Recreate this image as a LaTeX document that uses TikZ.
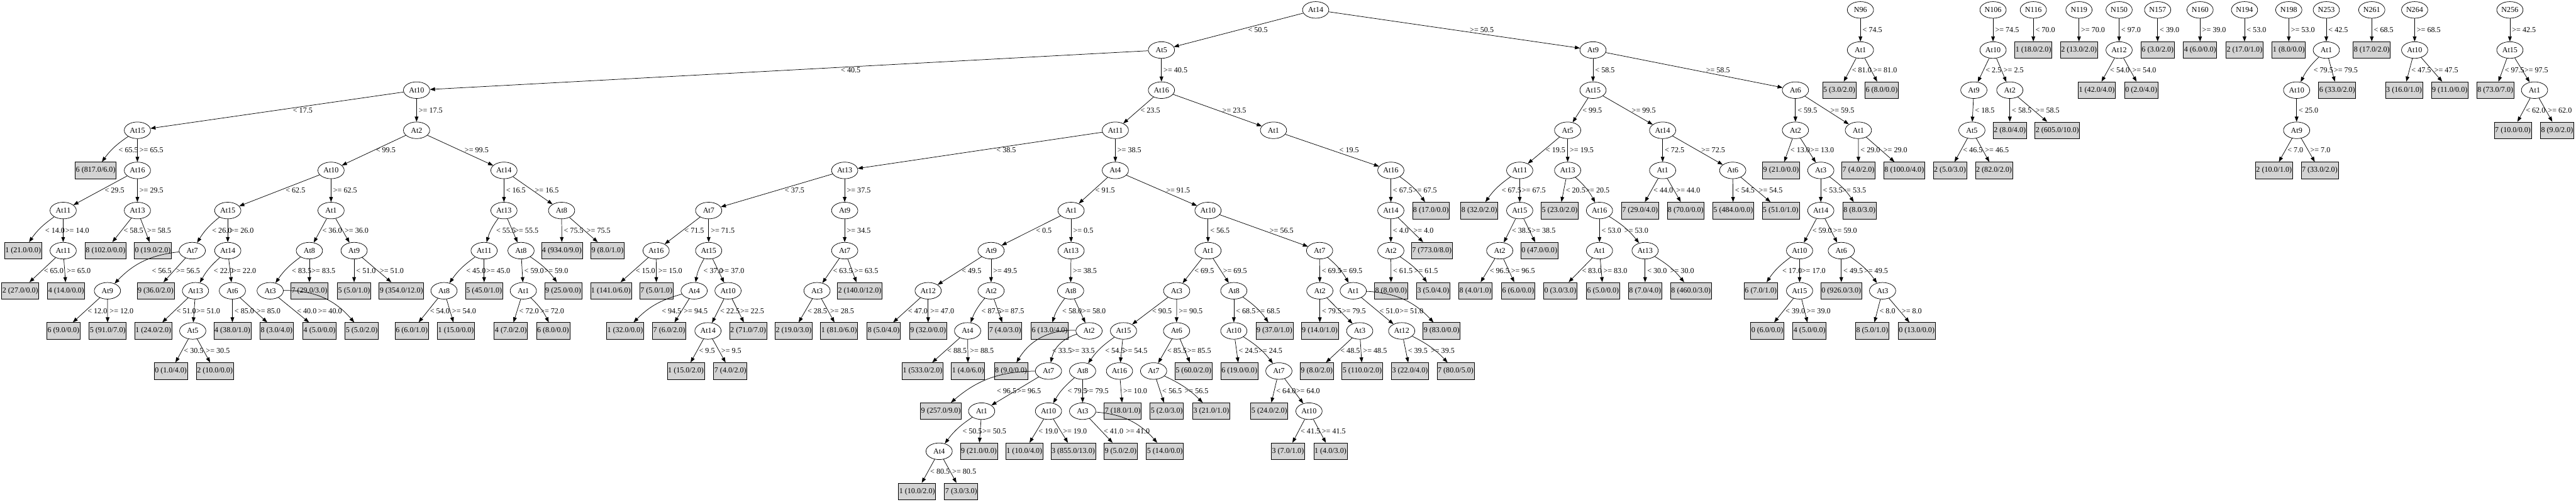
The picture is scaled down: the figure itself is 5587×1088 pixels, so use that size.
\documentclass[tikz,border=0pt]{standalone}
\usepackage{fontspec}
\setmainfont{Liberation Serif}
\usetikzlibrary{arrows.meta,calc,shapes.geometric}
\tikzset{
  inode/.style={ellipse,draw=black,line width=1pt,fill=white,minimum width=57pt,minimum height=36pt,inner sep=0pt},
  leaf/.style={rectangle,draw=black,line width=1pt,fill=lightgrayfill,minimum height=36pt,inner xsep=1.5pt,inner ysep=0pt},
  edge/.style={line width=1pt,-{Triangle[length=11pt,width=8pt]}},
  elab/.style={anchor=west,inner sep=0.5pt}
}
\definecolor{lightgrayfill}{HTML}{D3D3D3}
\newcommand\tnode[4]{\node[inode] (#1) at (#2,#3) {#4};}
\newcommand\tleaf[4]{\node[leaf] (#1) at (#2,#3) {#4};}
\newcommand\tedge[4][4]{\draw[edge] (#2) -- (#3); \node[elab,xshift=#1pt] at ($(#2)!0.5!(#3)$) {#4};}
\newcommand\tcurve[5][4]{\draw[edge] (#2) to[#5] (#3); \node[elab,xshift=#1pt] at ($(#2)!0.5!(#3)$) {#4};}
\begin{document}
\begin{tikzpicture}[x=1pt,y=-1pt,font=\fontsize{16.5}{18}\selectfont]
\useasboundingbox (0,0) rectangle (5587,1088);
% main tree
\tnode{a0}{2853.5}{21.5}{At14}
\tnode{a1}{2519}{108.5}{At5}
\tnode{a2}{3455}{108.5}{At9}
\tnode{b1}{903.5}{195.5}{At10}
\tnode{b2}{298}{282.5}{At15}
\tleaf{b3}{207.5}{369.5}{6 (817.0/6.0)}
\tnode{b4}{298}{369.5}{At16}
\tnode{b5}{137}{456.5}{At11}
\tnode{b6}{298}{456.5}{At13}
\tleaf{b7}{50}{543.5}{1 (21.0/0.0)}
\tnode{b8}{137}{543.5}{At11}
\tleaf{b9}{44}{630.5}{2 (27.0/0.0)}
\tleaf{b10}{143.6}{630.5}{4 (14.0/0.0)}
\tleaf{b11}{229}{543.5}{8 (102.0/0.0)}
\tleaf{b12}{331.5}{543.5}{0 (19.0/2.0)}
\tnode{b13}{903.5}{282.5}{At2}
\tnode{b14}{718}{369.5}{At10}
\tnode{b15}{1093}{369.5}{At14}
\tnode{b16}{494}{456.5}{At15}
\tnode{b17}{718}{456.5}{At1}
\tnode{b18}{417}{543.5}{At7}
\tnode{b19}{494}{543.5}{At14}
\tnode{b20}{233}{630.5}{At9}
\tleaf{b21}{337.5}{630.5}{9 (36.0/2.0)}
\tleaf{b22}{137.6}{717.5}{6 (9.0/0.0)}
\tleaf{b23}{233.5}{717.5}{5 (91.0/7.0)}
\tnode{b24}{424}{630.5}{At13}
\tnode{b25}{504}{630.5}{At6}
\tleaf{b26}{332.5}{717.5}{1 (24.0/2.0)}
\tnode{b27}{418}{717.5}{At5}
\tleaf{b28}{370.5}{804.5}{0 (1.0/4.0)}
\tleaf{b29}{466}{804.5}{2 (10.0/0.0)}
\tleaf{b30}{504}{717.5}{4 (38.0/1.0)}
\tleaf{b31}{600}{717.5}{8 (3.0/4.0)}
\tnode{b32}{671}{543.5}{At8}
\tnode{b33}{768}{543.5}{At9}
\tnode{b34}{586}{630.5}{At3}
\tleaf{b35}{671}{630.5}{7 (29.0/3.0)}
\tleaf{b36}{693}{717.5}{4 (5.0/0.0)}
\tleaf{b37}{784.5}{717.5}{5 (5.0/2.0)}
\tleaf{b38}{768}{630.5}{5 (5.0/1.0)}
\tleaf{b39}{870.5}{630.5}{9 (354.0/12.0)}
\tnode{b40}{1093}{456.5}{At13}
\tnode{b41}{1218}{456.5}{At8}
\tnode{b42}{1050}{543.5}{At11}
\tnode{b43}{1130}{543.5}{At8}
\tnode{b44}{963}{630.5}{At8}
\tleaf{b45}{1050}{630.5}{5 (45.0/1.0)}
\tleaf{b46}{893}{717.5}{6 (6.0/1.0)}
\tleaf{b47}{989}{717.5}{1 (15.0/0.0)}
\tnode{b48}{1135}{630.5}{At1}
\tleaf{b49}{1221.6}{630.5}{9 (25.0/0.0)}
\tleaf{b50}{1108}{717.5}{4 (7.0/2.0)}
\tleaf{b51}{1199.5}{717.5}{6 (8.0/0.0)}
\tleaf{b52}{1218.6}{543.5}{4 (934.0/9.0)}
\tleaf{b53}{1317.5}{543.5}{9 (8.0/1.0)}
\tnode{c1}{2519}{195.5}{At16}
\tnode{c2}{2419}{282.5}{At11}
\tnode{c3}{2762}{282.5}{At1}
\tnode{c4}{1832}{369.5}{At13}
\tnode{c5}{2419}{369.5}{At4}
\tnode{c6}{1537}{456.5}{At7}
\tnode{c7}{1832}{456.5}{At9}
\tnode{c8}{1423}{543.5}{At16}
\tnode{c9}{1537}{543.5}{At15}
\tleaf{c10}{1325}{630.5}{1 (141.0/6.0)}
\tleaf{c11}{1423.6}{630.5}{7 (5.0/1.0)}
\tnode{c12}{1505.5}{630.5}{At4}
\tnode{c13}{1579}{630.5}{At10}
\tleaf{c14}{1355.7}{717.5}{1 (32.0/0.0)}
\tleaf{c15}{1451.4}{717.5}{7 (6.0/2.0)}
\tnode{c16}{1535.5}{717.5}{At14}
\tleaf{c17}{1622.6}{717.5}{2 (71.0/7.0)}
\tleaf{c18}{1487.6}{804.5}{1 (15.0/2.0)}
\tleaf{c19}{1584}{804.5}{7 (4.0/2.0)}
\tnode{c20}{1832}{543.5}{At7}
\tnode{c21}{1772}{630.5}{At3}
\tleaf{c22}{1864.5}{630.5}{2 (140.0/12.0)}
\tleaf{c23}{1721.4}{717.5}{2 (19.0/3.0)}
\tleaf{c24}{1820}{717.5}{1 (81.0/6.0)}
\tnode{c25}{2323}{456.5}{At1}
\tnode{c26}{2620}{456.5}{At10}
\tnode{c27}{2149.5}{543.5}{At9}
\tnode{c28}{2323}{543.5}{At13}
\tnode{c29}{2013}{630.5}{At12}
\tnode{c30}{2149.5}{630.5}{At2}
\tleaf{c31}{1916.6}{717.5}{8 (5.0/4.0)}
\tleaf{c32}{2013}{717.5}{9 (32.0/0.0)}
\tnode{c33}{2098.6}{717.5}{At4}
\tleaf{c34}{2180}{717.5}{7 (4.0/3.0)}
\tleaf{c35}{2001}{804.5}{1 (533.0/2.0)}
\tleaf{c36}{2099.5}{804.5}{1 (4.0/6.0)}
\tnode{c37}{2322}{630.5}{At8}
\tleaf{c38}{2276.6}{717.5}{6 (13.0/4.0)}
\tnode{c39}{2362}{717.5}{At2}
\tleaf{c40}{2192.7}{804.5}{8 (9.0/0.0)}
\tnode{c41}{2274}{804.5}{At7}
\tleaf{c42}{2040.7}{891.5}{9 (257.0/9.0)}
\tnode{c43}{2129}{891.5}{At1}
\tnode{c44}{2036.8}{978.5}{At4}
\tleaf{c45}{2123}{978.5}{9 (21.0/0.0)}
\tleaf{c46}{1989}{1065.5}{1 (10.0/2.0)}
\tleaf{c47}{2084.6}{1065.5}{7 (3.0/3.0)}
\tnode{c48}{2620}{543.5}{At1}
\tnode{c49}{2862}{543.5}{At7}
\tnode{c50}{2552}{630.5}{At3}
\tnode{c51}{2676}{630.5}{At8}
\tnode{c52}{2436.7}{717.5}{At15}
\tnode{c53}{2551.8}{717.5}{At6}
\tnode{c54}{2348}{804.5}{At8}
\tnode{c55}{2428}{804.5}{At16}
\tnode{c56}{2274}{891.5}{At10}
\tnode{c57}{2348}{891.5}{At3}
\tleaf{c58}{2221.7}{978.5}{1 (10.0/4.0)}
\tleaf{c59}{2327.6}{978.5}{3 (855.0/13.0)}
\tleaf{c60}{2430.5}{978.5}{9 (5.0/2.0)}
\tleaf{c61}{2526.5}{978.5}{5 (14.0/0.0)}
\tleaf{c62}{2435}{891.5}{7 (18.0/1.0)}
\tnode{c63}{2502}{804.5}{At7}
\tleaf{c64}{2588.6}{804.5}{5 (60.0/2.0)}
\tleaf{c65}{2530.5}{891.5}{5 (2.0/3.0)}
\tleaf{c66}{2627}{891.5}{3 (21.0/1.0)}
\tnode{c67}{2676}{717.5}{At10}
\tleaf{c68}{2764}{717.5}{9 (37.0/1.0)}
\tleaf{c69}{2688}{804.5}{6 (19.0/0.0)}
\tnode{c70}{2773.7}{804.5}{At7}
\tleaf{c71}{2753}{891.5}{5 (24.0/2.0)}
\tnode{c72}{2839}{891.5}{At10}
\tleaf{c73}{2793.4}{978.5}{3 (7.0/1.0)}
\tleaf{c74}{2885.5}{978.5}{1 (4.0/3.0)}
\tnode{c75}{2862.5}{630.5}{At2}
\tnode{c76}{2935}{630.5}{At1}
\tleaf{c77}{2862.5}{717.5}{9 (14.0/1.0)}
\tnode{c78}{2949}{717.5}{At3}
\tleaf{c79}{2856}{804.5}{9 (8.0/2.0)}
\tleaf{c80}{2954.5}{804.5}{5 (110.0/2.0)}
\tnode{c81}{3040}{717.5}{At12}
\tleaf{c82}{3126.6}{717.5}{9 (83.0/0.0)}
\tleaf{c83}{3058}{804.5}{3 (22.0/4.0)}
\tleaf{c84}{3157}{804.5}{7 (80.0/5.0)}
\tnode{c85}{3016.5}{369.5}{At16}
\tnode{c86}{3016.5}{456.5}{At14}
\tleaf{c87}{3103.6}{456.5}{8 (17.0/0.0)}
\tnode{c88}{3016.5}{543.5}{At2}
\tleaf{c89}{3105.5}{543.5}{7 (773.0/8.0)}
\tleaf{c90}{3017}{630.5}{8 (8.0/0.0)}
\tleaf{c91}{3108.5}{630.5}{3 (5.0/4.0)}
\tnode{d1}{3455}{195.5}{At15}
\tnode{d2}{3894}{195.5}{At6}
\tnode{d3}{3400}{282.5}{At5}
\tnode{d4}{3606}{282.5}{At14}
\tnode{d5}{3296}{369.5}{At11}
\tnode{d6}{3400}{369.5}{At13}
\tleaf{d7}{3208.6}{456.5}{8 (32.0/2.0)}
\tnode{d8}{3296}{456.5}{At15}
\tnode{d9}{3252.7}{543.5}{At2}
\tleaf{d10}{3338.6}{543.5}{0 (47.0/0.0)}
\tleaf{d11}{3200}{630.5}{8 (4.0/1.0)}
\tleaf{d12}{3292.6}{630.5}{6 (6.0/0.0)}
\tleaf{d13}{3382.8}{456.5}{5 (23.0/2.0)}
\tnode{d14}{3469}{456.5}{At16}
\tnode{d15}{3469}{543.5}{At1}
\tnode{d16}{3568}{543.5}{At13}
\tleaf{d17}{3384}{630.5}{0 (3.0/3.0)}
\tleaf{d18}{3476.7}{630.5}{6 (5.0/0.0)}
\tleaf{d19}{3568}{630.5}{8 (7.0/4.0)}
\tleaf{d20}{3667.6}{630.5}{8 (460.0/3.0)}
\tnode{d21}{3606}{369.5}{At1}
\tnode{d22}{3758}{369.5}{At6}
\tleaf{d23}{3557}{456.5}{7 (29.0/4.0)}
\tleaf{d24}{3656}{456.5}{8 (70.0/0.0)}
\tleaf{d25}{3759}{456.5}{5 (484.0/0.0)}
\tleaf{d26}{3862}{456.5}{5 (51.0/1.0)}
\tnode{d27}{3894}{282.5}{At2}
\tnode{d28}{4030.5}{282.5}{At1}
\tleaf{d29}{3863}{369.5}{9 (21.0/0.0)}
\tnode{d30}{3949}{369.5}{At3}
\tnode{d31}{3949}{456.5}{At14}
\tleaf{d32}{4033}{456.5}{8 (8.0/3.0)}
\tnode{d33}{3903}{543.5}{At10}
\tnode{d34}{3993.5}{543.5}{At6}
\tleaf{d35}{3819}{630.5}{6 (7.0/1.0)}
\tnode{d36}{3903}{630.5}{At15}
\tleaf{d37}{3833}{717.5}{0 (6.0/0.0)}
\tleaf{d38}{3924.6}{717.5}{4 (5.0/0.0)}
\tleaf{d39}{3993.5}{630.5}{0 (926.0/3.0)}
\tnode{d40}{4083}{630.5}{At3}
\tleaf{d41}{4060.5}{717.5}{8 (5.0/1.0)}
\tleaf{d42}{4157}{717.5}{0 (13.0/0.0)}
\tleaf{d43}{4030.7}{369.5}{7 (4.0/2.0)}
\tleaf{d44}{4130}{369.5}{8 (100.0/4.0)}
% separate trees
\tnode{e1}{4035}{21.5}{N96}
\tnode{e2}{4035}{108.5}{At1}
\tleaf{e3}{3989}{195.5}{5 (3.0/2.0)}
\tleaf{e4}{4081}{195.5}{6 (8.0/0.0)}
\tnode{f1}{4322.6}{21.5}{N106}
\tnode{f2}{4322.6}{108.5}{At10}
\tnode{f3}{4281}{195.5}{At9}
\tnode{f4}{4359}{195.5}{At2}
\tnode{f5}{4276.7}{282.5}{At5}
\tleaf{f6}{4229}{369.5}{2 (5.0/3.0)}
\tleaf{f7}{4324.6}{369.5}{2 (82.0/2.0)}
\tleaf{f8}{4359}{282.5}{2 (8.0/4.0)}
\tleaf{f9}{4462}{282.5}{2 (605.0/10.0)}
\tnode{g1}{4410}{21.5}{N116}
\tleaf{g2}{4410}{108.5}{1 (18.0/2.0)}
\tnode{h1}{4509}{21.5}{N119}
\tleaf{h2}{4509}{108.5}{2 (13.0/2.0)}
\tnode{i1}{4596}{21.5}{N150}
\tnode{i2}{4596}{108.5}{At12}
\tleaf{i3}{4547.6}{195.5}{1 (42.0/4.0)}
\tleaf{i4}{4644}{195.5}{0 (2.0/4.0)}
\tnode{j1}{4679.6}{21.5}{N157}
\tleaf{j2}{4679.6}{108.5}{6 (3.0/2.0)}
\tnode{k1}{4771.6}{21.5}{N160}
\tleaf{k2}{4771.6}{108.5}{4 (6.0/0.0)}
\tnode{l1}{4868}{21.5}{N194}
\tleaf{l2}{4868}{108.5}{2 (17.0/1.0)}
\tnode{m1}{4964}{21.5}{N198}
\tleaf{m2}{4964}{108.5}{1 (8.0/0.0)}
\tnode{n1}{5045.4}{21.5}{N253}
\tnode{n2}{5045.4}{108.5}{At1}
\tnode{n3}{4981}{195.5}{At10}
\tleaf{n4}{5069}{195.5}{6 (33.0/2.0)}
\tnode{n5}{4981}{282.5}{At9}
\tleaf{n6}{4932}{369.5}{2 (10.0/1.0)}
\tleaf{n7}{5031}{369.5}{7 (33.0/2.0)}
\tnode{o1}{5144}{21.5}{N261}
\tleaf{o2}{5144}{108.5}{8 (17.0/2.0)}
\tnode{p1}{5237}{21.5}{N264}
\tnode{p2}{5237}{108.5}{At10}
\tleaf{p3}{5214}{195.5}{3 (16.0/1.0)}
\tleaf{p4}{5313}{195.5}{9 (11.0/0.0)}
\tnode{q1}{5443.6}{21.5}{N256}
\tnode{q2}{5443.6}{108.5}{At15}
\tleaf{q3}{5412}{195.5}{8 (73.0/7.0)}
\tnode{q4}{5497}{195.5}{At1}
\tleaf{q5}{5450}{282.5}{7 (10.0/0.0)}
\tleaf{q6}{5546}{282.5}{8 (9.0/2.0)}
% edges
\tedge[20]{a0}{a1}{< 50.5}
\tedge[33]{a0}{a2}{>= 50.5}
\tedge[112]{a1}{b1}{< 40.5}
\tedge{a1}{c1}{>= 40.5}
\tedge[34]{b1}{b2}{< 17.5}
\tedge{b1}{b13}{>= 17.5}
\tcurve{b2}{b3}{< 65.5}{bend right=10}
\tedge{b2}{b4}{>= 65.5}
\tedge[9]{b4}{b5}{< 29.5}
\tedge{b4}{b6}{>= 29.5}
\tcurve{b5}{b7}{< 14.0}{bend right=10}
\tedge{b5}{b8}{>= 14.0}
\tedge{b8}{b9}{< 65.0}
\tedge{b8}{b10}{>= 65.0}
\tedge{b6}{b11}{< 58.5}
\tedge{b6}{b12}{>= 58.5}
\tedge{b13}{b14}{< 99.5}
\tedge[9]{b13}{b15}{>= 99.5}
\tedge[13]{b14}{b16}{< 62.5}
\tedge{b14}{b17}{>= 62.5}
\tcurve{b16}{b18}{< 26.0}{bend right=10}
\tedge{b16}{b19}{>= 26.0}
\tcurve{b18}{b20}{< 56.5}{bend right=20}
\tedge{b18}{b21}{>= 56.5}
\tedge{b20}{b22}{< 12.0}
\tedge{b20}{b23}{>= 12.0}
\tcurve{b19}{b24}{< 22.0}{bend right=10}
\tedge{b19}{b25}{>= 22.0}
\tedge{b24}{b26}{< 51.0}
\tedge{b24}{b27}{>= 51.0}
\tedge{b27}{b28}{< 30.5}
\tedge{b27}{b29}{>= 30.5}
\tedge{b25}{b30}{< 85.0}
\tedge{b25}{b31}{>= 85.0}
\tedge{b17}{b32}{< 36.0}
\tedge{b17}{b33}{>= 36.0}
\tcurve{b32}{b34}{< 83.5}{bend right=10}
\tedge{b32}{b35}{>= 83.5}
\tedge{b34}{b36}{< 40.0}
\tcurve{b34}{b37}{>= 40.0}{bend left=25}
\tedge{b33}{b38}{< 51.0}
\tedge{b33}{b39}{>= 51.0}
\tedge{b15}{b40}{< 16.5}
\tedge{b15}{b41}{>= 16.5}
\tcurve{b40}{b42}{< 55.5}{bend right=10}
\tedge{b40}{b43}{>= 55.5}
\tcurve{b42}{b44}{< 45.0}{bend right=10}
\tedge{b42}{b45}{>= 45.0}
\tedge{b44}{b46}{< 54.0}
\tedge{b44}{b47}{>= 54.0}
\tedge{b43}{b48}{< 59.0}
\tcurve{b43}{b49}{>= 59.0}{bend left=10}
\tedge{b48}{b50}{< 72.0}
\tcurve{b48}{b51}{>= 72.0}{bend left=10}
\tedge{b41}{b52}{< 75.5}
\tedge{b41}{b53}{>= 75.5}
\tedge{c1}{c2}{< 23.5}
\tedge[10]{c1}{c3}{>= 23.5}
\tedge[35]{c2}{c4}{< 38.5}
\tedge{c2}{c5}{>= 38.5}
\tedge[17]{c4}{c6}{< 37.5}
\tedge{c4}{c7}{>= 37.5}
\tedge{c6}{c8}{< 71.5}
\tedge{c6}{c9}{>= 71.5}
\tedge{c8}{c10}{< 15.0}
\tedge{c8}{c11}{>= 15.0}
\tcurve{c9}{c12}{< 37.0}{bend right=10}
\tedge{c9}{c13}{>= 37.0}
\tcurve{c12}{c14}{< 94.5}{bend right=15}
\tedge{c12}{c15}{>= 94.5}
\tedge{c13}{c16}{< 22.5}
\tedge{c13}{c17}{>= 22.5}
\tedge{c16}{c18}{< 9.5}
\tedge{c16}{c19}{>= 9.5}
\tedge{c7}{c20}{>= 34.5}
\tedge{c20}{c21}{< 63.5}
\tedge{c20}{c22}{>= 63.5}
\tedge{c21}{c23}{< 28.5}
\tedge{c21}{c24}{>= 28.5}
\tedge{c5}{c25}{< 91.5}
\tedge[9]{c5}{c26}{>= 91.5}
\tedge[10]{c25}{c27}{< 0.5}
\tedge{c25}{c28}{>= 0.5}
\tedge{c27}{c29}{< 49.5}
\tedge{c27}{c30}{>= 49.5}
\tedge{c29}{c31}{< 47.0}
\tedge{c29}{c32}{>= 47.0}
\tcurve{c30}{c33}{< 87.5}{bend right=10}
\tedge{c30}{c34}{>= 87.5}
\tedge{c33}{c35}{< 88.5}
\tedge{c33}{c36}{>= 88.5}
\tedge{c28}{c37}{>= 38.5}
\tcurve{c37}{c38}{< 58.0}{bend right=10}
\tedge{c37}{c39}{>= 58.0}
\tcurve{c39}{c40}{< 33.5}{bend right=30}
\tcurve{c39}{c41}{>= 33.5}{bend right=30}
\tcurve{c41}{c42}{< 96.5}{bend right=20}
\tedge{c41}{c43}{>= 96.5}
\tcurve{c43}{c44}{< 50.5}{bend right=10}
\tedge{c43}{c45}{>= 50.5}
\tedge{c44}{c46}{< 80.5}
\tedge{c44}{c47}{>= 80.5}
\tedge{c26}{c48}{< 56.5}
\tedge[12]{c26}{c49}{>= 56.5}
\tedge{c48}{c50}{< 69.5}
\tedge{c48}{c51}{>= 69.5}
\tedge{c50}{c52}{< 90.5}
\tedge{c50}{c53}{>= 90.5}
\tcurve{c52}{c54}{< 54.5}{bend right=10}
\tedge{c52}{c55}{>= 54.5}
\tcurve{c54}{c56}{< 79.5}{bend right=10}
\tedge{c54}{c57}{>= 79.5}
\tedge{c56}{c58}{< 19.0}
\tedge{c56}{c59}{>= 19.0}
\tedge{c57}{c60}{< 41.0}
\tcurve{c57}{c61}{>= 41.0}{bend left=22}
\tedge{c55}{c62}{>= 10.0}
\tedge{c53}{c63}{< 85.5}
\tedge{c53}{c64}{>= 85.5}
\tedge{c63}{c65}{< 56.5}
\tcurve{c63}{c66}{>= 56.5}{bend left=10}
\tedge{c51}{c67}{< 68.5}
\tcurve{c51}{c68}{>= 68.5}{bend left=10}
\tedge{c67}{c69}{< 24.5}
\tcurve{c67}{c70}{>= 24.5}{bend left=10}
\tedge{c70}{c71}{< 64.0}
\tedge{c70}{c72}{>= 64.0}
\tedge{c72}{c73}{< 41.5}
\tedge{c72}{c74}{>= 41.5}
\tedge{c49}{c75}{< 69.5}
\tcurve{c49}{c76}{>= 69.5}{bend left=10}
\tedge{c75}{c77}{< 79.5}
\tedge{c75}{c78}{>= 79.5}
\tedge{c78}{c79}{< 48.5}
\tedge{c78}{c80}{>= 48.5}
\tedge{c76}{c81}{< 51.0}
\tcurve{c76}{c82}{>= 51.0}{bend left=22}
\tedge{c81}{c83}{< 39.5}
\tcurve{c81}{c84}{>= 39.5}{bend left=10}
\tedge[15]{c3}{c85}{< 19.5}
\tedge{c85}{c86}{< 67.5}
\tcurve{c85}{c87}{>= 67.5}{bend left=10}
\tedge{c86}{c88}{< 4.0}
\tedge{c86}{c89}{>= 4.0}
\tedge{c88}{c90}{< 61.5}
\tcurve{c88}{c91}{>= 61.5}{bend left=10}
\tedge{a2}{d1}{< 58.5}
\tedge[25]{a2}{d2}{>= 58.5}
\tedge{d1}{d3}{< 99.5}
\tedge[8]{d1}{d4}{>= 99.5}
\tedge{d3}{d5}{< 19.5}
\tedge{d3}{d6}{>= 19.5}
\tcurve{d5}{d7}{< 67.5}{bend right=10}
\tedge{d5}{d8}{>= 67.5}
\tedge{d8}{d9}{< 38.5}
\tedge{d8}{d10}{>= 38.5}
\tedge{d9}{d11}{< 96.5}
\tedge{d9}{d12}{>= 96.5}
\tedge{d6}{d13}{< 20.5}
\tcurve{d6}{d14}{>= 20.5}{bend left=10}
\tedge{d14}{d15}{< 53.0}
\tcurve{d14}{d16}{>= 53.0}{bend left=10}
\tedge{d15}{d17}{< 83.0}
\tedge{d15}{d18}{>= 83.0}
\tedge{d16}{d19}{< 30.0}
\tcurve{d16}{d20}{>= 30.0}{bend left=10}
\tedge{d4}{d21}{< 72.5}
\tedge[7]{d4}{d22}{>= 72.5}
\tedge{d21}{d23}{< 44.0}
\tedge{d21}{d24}{>= 44.0}
\tedge{d22}{d25}{< 54.5}
\tedge{d22}{d26}{>= 54.5}
\tedge{d2}{d27}{< 59.5}
\tedge[7]{d2}{d28}{>= 59.5}
\tedge{d27}{d29}{< 13.0}
\tedge{d27}{d30}{>= 13.0}
\tedge{d30}{d31}{< 53.5}
\tcurve{d30}{d32}{>= 53.5}{bend left=10}
\tedge{d31}{d33}{< 59.0}
\tedge{d31}{d34}{>= 59.0}
\tcurve{d33}{d35}{< 17.0}{bend right=10}
\tedge{d33}{d36}{>= 17.0}
\tedge{d36}{d37}{< 39.0}
\tedge{d36}{d38}{>= 39.0}
\tedge{d34}{d39}{< 49.5}
\tcurve{d34}{d40}{>= 49.5}{bend left=10}
\tedge{d40}{d41}{< 8.0}
\tedge{d40}{d42}{>= 8.0}
\tedge{d28}{d43}{< 29.0}
\tedge{d28}{d44}{>= 29.0}
\tedge{e1}{e2}{< 74.5}
\tedge{e2}{e3}{< 81.0}
\tedge{e2}{e4}{>= 81.0}
\tedge{f1}{f2}{>= 74.5}
\tedge{f2}{f3}{< 2.5}
\tedge{f2}{f4}{>= 2.5}
\tedge{f3}{f5}{< 18.5}
\tedge{f5}{f6}{< 46.5}
\tedge{f5}{f7}{>= 46.5}
\tedge{f4}{f8}{< 58.5}
\tedge{f4}{f9}{>= 58.5}
\tedge{g1}{g2}{< 70.0}
\tedge{h1}{h2}{>= 70.0}
\tedge{i1}{i2}{< 97.0}
\tedge{i2}{i3}{< 54.0}
\tedge{i2}{i4}{>= 54.0}
\tedge{j1}{j2}{< 39.0}
\tedge{k1}{k2}{>= 39.0}
\tedge{l1}{l2}{< 53.0}
\tedge{m1}{m2}{>= 53.0}
\tedge{n1}{n2}{< 42.5}
\tcurve{n2}{n3}{< 79.5}{bend right=10}
\tedge{n2}{n4}{>= 79.5}
\tedge{n3}{n5}{< 25.0}
\tedge{n5}{n6}{< 7.0}
\tedge{n5}{n7}{>= 7.0}
\tedge{o1}{o2}{< 68.5}
\tedge{p1}{p2}{>= 68.5}
\tedge{p2}{p3}{< 47.5}
\tedge{p2}{p4}{>= 47.5}
\tedge{q1}{q2}{>= 42.5}
\tedge{q2}{q3}{< 97.5}
\tedge{q2}{q4}{>= 97.5}
\tedge{q4}{q5}{< 62.0}
\tedge{q4}{q6}{>= 62.0}
\end{tikzpicture}
\end{document}
